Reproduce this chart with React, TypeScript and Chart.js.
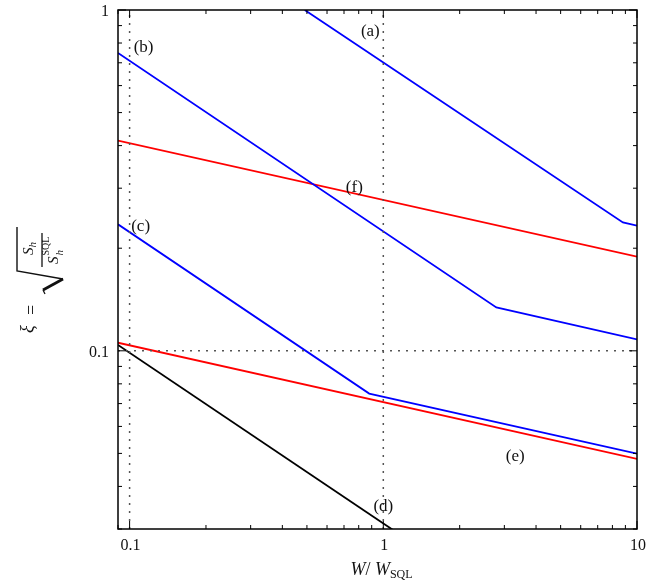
import React, { useEffect, useRef } from "react";
import { Chart, registerables } from "chart.js";

Chart.register(...registerables);

// Axis ranges
const xMin = 0.09;
const xMax = 10;
const yMin = 0.03;
const yMax = 1;

// Curves (W/W_SQL, xi)
const curveAx = [0.49, 8.8, 10];
const curveAy = [1.0, 0.238, 0.233];
const curveBx = [0.09, 2.79, 10];
const curveBy = [0.748, 0.134, 0.108];
const curveCx = [0.09, 0.88, 10];
const curveCy = [0.235, 0.0749, 0.0499];
const curveDx = [0.09, 1.1];
const curveDy = [0.104, 0.0297];
const curveEx = [0.09, 10];
const curveEy = [0.1056, 0.0482];
const curveFx = [0.09, 10];
const curveFy = [0.414, 0.189];

// Dotted reference lines
const refX = [0.1, 1];
const refY = [0.1];

// Tick labels
const xTickValues = [0.1, 1, 10];
const xTickLabels = ["0.1", "1", "10"];
const yTickValues = [0.1, 1];
const yTickLabels = ["0.1", "1"];

// Curve labels
const curveLabels = ["(a)", "(b)", "(c)", "(d)", "(e)", "(f)"];
const curveLabelX = [0.889, 0.1135, 0.1105, 1.0, 3.31, 0.769];
const curveLabelY = [0.867, 0.778, 0.232, 0.035, 0.0491, 0.302];

const SERIF = "'Liberation Serif', 'Times New Roman', serif";

const zip = (xs: number[], ys: number[]) => xs.map((x, i) => ({ x, y: ys[i] }));

const decorPlugin = {
  id: "decor",
  afterDatasetsDraw(chart: any) {
    const { ctx, chartArea, scales } = chart;
    const { left, right, top, bottom } = chartArea;
    const xs = scales.x;
    const ys = scales.y;
    ctx.save();
    // frame
    ctx.strokeStyle = "#000";
    ctx.lineWidth = 1.5;
    ctx.strokeRect(left, top, right - left, bottom - top);
    // inward ticks
    ctx.lineWidth = 1;
    const seg = (x1: number, y1: number, x2: number, y2: number) => {
      ctx.beginPath();
      ctx.moveTo(x1, y1);
      ctx.lineTo(x2, y2);
      ctx.stroke();
    };
    for (let d = -2; d <= 1; d++) {
      for (let m = 1; m <= 9; m++) {
        const v = m * Math.pow(10, d);
        const len = m === 1 ? 8 : 4;
        if (v >= xMin - 1e-9 && v <= xMax + 1e-9) {
          const px = xs.getPixelForValue(v);
          seg(px, bottom, px, bottom - len);
          seg(px, top, px, top + len);
        }
        if (v >= yMin - 1e-9 && v <= yMax + 1e-9) {
          const py = ys.getPixelForValue(v);
          seg(left, py, left + len, py);
          seg(right, py, right - len, py);
        }
      }
    }
    // tick labels
    ctx.fillStyle = "#111";
    ctx.font = `16px ${SERIF}`;
    ctx.textAlign = "right";
    ctx.textBaseline = "middle";
    yTickValues.forEach((v, i) => {
      ctx.fillText(yTickLabels[i], left - 9, ys.getPixelForValue(v) + 2);
    });
    ctx.textAlign = "center";
    ctx.textBaseline = "top";
    xTickValues.forEach((v, i) => {
      ctx.fillText(xTickLabels[i], xs.getPixelForValue(v) + 1, bottom + 9);
    });
    // curve labels
    ctx.font = `17px ${SERIF}`;
    ctx.textBaseline = "middle";
    curveLabels.forEach((t, i) => {
      ctx.fillText(t, xs.getPixelForValue(curveLabelX[i]), ys.getPixelForValue(curveLabelY[i]));
    });
    // x title: W/ W_SQL
    ctx.textAlign = "left";
    ctx.textBaseline = "alphabetic";
    const parts: [string, string, number][] = [
      ["W", `italic 18px ${SERIF}`, 0],
      ["/ ", `18px ${SERIF}`, 0],
      ["W", `italic 18px ${SERIF}`, 0],
      ["SQL", `12px ${SERIF}`, 3],
    ];
    let total = 0;
    parts.forEach(([t, f]) => {
      ctx.font = f;
      total += ctx.measureText(t).width;
    });
    let cx = (left + right) / 2 + 4 - total / 2;
    parts.forEach(([t, f, dy]) => {
      ctx.font = f;
      ctx.fillText(t, cx, 575 + dy);
      cx += ctx.measureText(t).width;
    });
    // y title: xi = sqrt(S_h / S_h^SQL), rotated
    ctx.save();
    ctx.rotate(-Math.PI / 2);
    ctx.fillStyle = "#111";
    ctx.strokeStyle = "#111";
    ctx.font = `italic 18px ${SERIF}`;
    ctx.fillText("ξ", -333, 33);
    ctx.font = `18px ${SERIF}`;
    ctx.fillText("=", -315, 37);
    // radical
    ctx.lineWidth = 1.4;
    ctx.beginPath();
    ctx.moveTo(-227, 17);
    ctx.lineTo(-271, 17);
    ctx.lineTo(-279, 63);
    ctx.stroke();
    ctx.lineWidth = 2.8;
    ctx.beginPath();
    ctx.moveTo(-279, 63);
    ctx.lineTo(-290, 43);
    ctx.stroke();
    ctx.lineWidth = 1.3;
    ctx.beginPath();
    ctx.moveTo(-290, 43);
    ctx.lineTo(-294, 45);
    ctx.stroke();
    // fraction
    ctx.lineWidth = 1.3;
    ctx.beginPath();
    ctx.moveTo(-267, 42);
    ctx.lineTo(-233, 42);
    ctx.stroke();
    ctx.font = `italic 15px ${SERIF}`;
    ctx.fillText("S", -255, 33);
    const sw = ctx.measureText("S").width;
    ctx.font = `italic 11px ${SERIF}`;
    ctx.fillText("h", -255 + sw, 36);
    ctx.font = `italic 15px ${SERIF}`;
    ctx.fillText("S", -264, 58);
    const sw2 = ctx.measureText("S").width;
    ctx.font = `10px ${SERIF}`;
    ctx.fillText("SQL", -264 + sw2 + 1, 49);
    ctx.font = `italic 11px ${SERIF}`;
    ctx.fillText("h", -264 + sw2 + 1, 63);
    ctx.restore();
    ctx.restore();
  },
};

export default function App() {
  const ref = useRef<HTMLCanvasElement | null>(null);
  useEffect(() => {
    if (!ref.current) return;
    const solid = (data: any[], color: string) => ({
      data,
      borderColor: color,
      backgroundColor: color,
      borderWidth: 1.8,
      pointRadius: 0,
      fill: false,
      tension: 0,
    });
    const dotted = (data: any[]) => ({
      data,
      borderColor: "#555",
      borderWidth: 1.5,
      borderDash: [2, 6],
      pointRadius: 0,
      fill: false,
      tension: 0,
    });
    const datasets: any[] = [
      ...refX.map((v) => dotted([{ x: v, y: yMin }, { x: v, y: yMax }])),
      ...refY.map((v) => dotted([{ x: xMin, y: v }, { x: xMax, y: v }])),
      solid(zip(curveAx, curveAy), "#0000ff"),
      solid(zip(curveBx, curveBy), "#0000ff"),
      solid(zip(curveCx, curveCy), "#0000ff"),
      solid(zip(curveDx, curveDy), "#000000"),
      solid(zip(curveEx, curveEy), "#ff0000"),
      solid(zip(curveFx, curveFy), "#ff0000"),
    ];
    const chart = new Chart(ref.current, {
      type: "line",
      data: { datasets },
      options: {
        animation: false,
        responsive: false,
        devicePixelRatio: 1,
        layout: { padding: { left: 118, right: 31, top: 10, bottom: 53 } },
        plugins: { legend: { display: false }, tooltip: { enabled: false } },
        scales: {
          x: { type: "logarithmic", min: xMin, max: xMax, display: false },
          y: { type: "logarithmic", min: yMin, max: yMax, display: false },
        },
      },
      plugins: [decorPlugin],
    } as any);
    return () => chart.destroy();
  }, []);
  return (
    <div style={{ position: "fixed", left: 0, top: 0, width: 668, height: 582, background: "#fff" }}>
      <canvas ref={ref} width={668} height={582} style={{ width: 668, height: 582, display: "block" }} />
    </div>
  );
}
